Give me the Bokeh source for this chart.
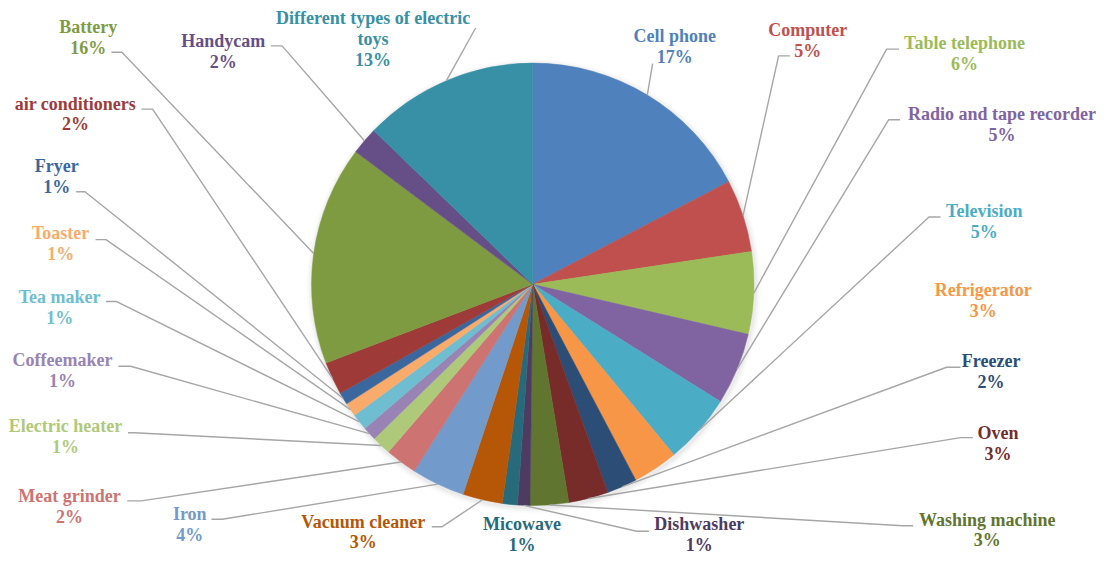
import numpy as np
from bokeh.plotting import figure
from bokeh.models import Range1d, ColumnDataSource
from bokeh.core.properties import value
from bokeh.embed import file_html
from bokeh.resources import INLINE

# ---------------- data ----------------
categories = [
    "Cell phone", "Computer", "Table telephone", "Radio and tape recorder",
    "Television", "Refrigerator", "Freezer", "Oven", "Washing machine",
    "Dishwasher", "Micowave", "Vacuum cleaner", "Iron", "Meat grinder",
    "Electric heater", "Coffeemaker", "Tea maker", "Toaster", "Fryer",
    "air conditioners", "Battery", "Handycam",
    "Different types of electric\ntoys",
]
values = [
    17.3, 5.3, 6.0, 5.25,
    5.1, 3.3, 2.2, 2.9, 2.8,
    0.9, 1.1, 2.9, 3.9, 2.3,
    1.4, 1.0, 1.2, 1.0, 0.9,
    2.4, 16.0, 2.0,
    12.75,
]
colors = [
    "#4F81BD", "#C0504D", "#9BBB59", "#8064A2", "#4BACC6", "#F79646",
    "#2C4D75", "#772C2A", "#5F7530", "#4D3B62", "#276A7C", "#B65708",
    "#729ACA", "#CD7371", "#AFC97A", "#9983B5", "#6FBDD1", "#F9AB6B",
    "#3A679D", "#9E3B39", "#7F9B42", "#664F87", "#3790A6",
]

# ---------------- layout (reference pixels) ----------------
# label centre x, first-line centre y, leader elbow (x, y), leader end x
layout = [
    (684, 37, (661.6, 65), 661.6),
    (819, 30, (789.4, 57), 800.9),
    (978, 44, (899, 50), 911.6),
    (1016, 117, (901, 122.7), 912.6),
    (998, 217, (942, 222.7), 953.7),
    (997, 298, None, None),
    (1005, 371, (959.8, 377.3), 974),
    (1012, 445, (974, 449.7), 986.6),
    (1001, 534, (915, 540.3), 925.9),
    (709, 539, (645.5, 546), 658),
    (529, 539, None, None),
    (368, 536, (448.2, 541.3), 437.5),
    (192, 528, (225, 533.7), 214),
    (70, 510, (142.9, 514.7), 128.6),
    (66, 438, (135.7, 444.7), 129.3),
    (63, 370, (132, 376.3), 119.6),
    (60, 305, (117.9, 309.7), 107),
    (61, 239, (107, 246), 96.4),
    (57, 170, (85.7, 196.7), 76.8),
    (76, 106, (154.3, 111.7), 142.9),
    (89, 27, (123.2, 53.3), 112.5),
    (226, 42, (285.7, 46.7), 274.3),
    (378, 18, (482, 28.3), 482),
]

W, H = 1118, 573
PW, PH = 1102, 557
SX, SY = PW / W, PH / H
CX, CY_S = 540, 292
R_PX = 226 * (SX + SY) / 2  # screen radius
LINE_GAP = 21.5


def Y(ys):
    return H - ys


p = figure(width=PW, height=PH, x_range=Range1d(0, W), y_range=Range1d(0, H),
           output_backend="svg", toolbar_location=None, min_border=0)
p.axis.visible = False
p.grid.visible = False
p.outline_line_color = None
p.background_fill_color = "white"
p.border_fill_color = "white"

vals = np.array(values, dtype=float)
total = vals.sum()
frac = vals / total
cum_end = np.cumsum(frac)
cum_start = cum_end - frac
start = np.pi / 2 - 2 * np.pi * cum_start
end = np.pi / 2 - 2 * np.pi * cum_end
mid = np.pi / 2 - 2 * np.pi * (cum_start + frac / 2)

cy = Y(CY_S)

# soft shadow
for k, a in [(6, 0.03), (4, 0.05), (2, 0.07)]:
    p.circle(x=[CX + 1], y=[cy - 2], radius=R_PX + k, radius_units="screen",
             fill_color="#7f7f7f", fill_alpha=a, line_color=None)

src = ColumnDataSource(dict(start=start, end=end, color=colors))
p.wedge(x=CX, y=cy, radius=R_PX, radius_units="screen",
        start_angle="start", end_angle="end",
        direction="clock", fill_color="color", line_color="color",
        line_width=0.5, source=src)

# leader lines
lx, ly = [], []
for i, (tx, ty, elbow, endx) in enumerate(layout):
    if elbow is None:
        continue
    sx = CX + R_PX * np.cos(mid[i]) / SX
    sy = cy + R_PX * np.sin(mid[i]) / SY
    ex, ey = elbow
    lx.append([sx, ex, endx])
    ly.append([sy, Y(ey), Y(ey)])
p.multi_line(xs=lx, ys=ly, line_color="#A6A6A6", line_width=1.4)

# labels
tx_all, ty_all, txt_all, col_all = [], [], [], []
for i, (tx, ty, elbow, endx) in enumerate(layout):
    lines = categories[i].split("\n") + [f"{int(round(frac[i] * 100))}%"]
    for j, t in enumerate(lines):
        tx_all.append(tx)
        ty_all.append(Y(ty + j * LINE_GAP))
        txt_all.append(t)
        col_all.append(colors[i])

lsrc = ColumnDataSource(dict(x=tx_all, y=ty_all, text=txt_all, color=col_all))
p.text(x="x", y="y", text="text", text_color="color", source=lsrc,
       text_align="center", text_baseline="middle",
       text_font=value("Liberation Serif"), text_font_style="bold",
       text_font_size="18px")

open("out.html", "w").write(file_html(p, INLINE))
